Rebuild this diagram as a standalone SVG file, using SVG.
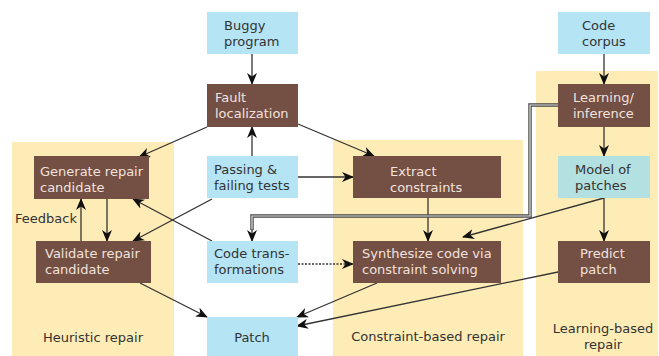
<svg xmlns="http://www.w3.org/2000/svg" width="659" height="356" viewBox="0 0 659 356">
  <defs>
    <marker id="arrow" viewBox="0 0 12 10" refX="11" refY="5" markerWidth="12" markerHeight="10" markerUnits="userSpaceOnUse" orient="auto">
      <path d="M0,0 L12,5 L0,10 L3.5,5 z" fill="#111"/>
    </marker>
  </defs>
  <style>
    text { font-family: "DejaVu Sans", "Liberation Sans", sans-serif; font-size: 13px; }
    .panel { fill: #fdecb6; }
    .input { fill: #b5e4f5; }
    .model { fill: #b3e0e0; }
    .step { fill: #744f44; }
    .dark { fill: #333333; }
    .light { fill: #f2e2dd; }
    .edge { stroke: #333; stroke-width: 1.3; fill: none; marker-end: url(#arrow); }
    .dotted { stroke-dasharray: 2 1.5; }
  </style>
  <rect width="659" height="356" fill="#ffffff"/>

  <!-- approach panels -->
  <g id="panel-heuristic">
    <rect class="panel" x="12" y="142" width="162" height="214"/>
    <text class="dark" x="93" y="342" text-anchor="middle">Heuristic repair</text>
  </g>
  <g id="panel-constraint">
    <rect class="panel" x="333" y="140" width="190" height="216"/>
    <text class="dark" x="428" y="341" text-anchor="middle">Constraint-based repair</text>
  </g>
  <g id="panel-learning">
    <rect class="panel" x="536" y="71" width="122" height="285"/>
    <text class="dark" x="603" y="333" text-anchor="middle">Learning-based</text>
    <text class="dark" x="603" y="349" text-anchor="middle">repair</text>
  </g>

  <!-- connectors -->
  <g id="connectors">
    <line class="edge" x1="252" y1="54" x2="252" y2="84"/>
    <line class="edge" x1="252" y1="156" x2="252" y2="127"/>
    <line class="edge" x1="207" y1="127" x2="139" y2="157"/>
    <line class="edge" x1="298" y1="124" x2="374" y2="156"/>
    <line class="edge" x1="298" y1="177" x2="353" y2="177"/>
    <line class="edge" x1="212" y1="199" x2="133" y2="241"/>
    <line class="edge" x1="212" y1="241" x2="133" y2="199"/>
    <line class="edge" x1="107" y1="199" x2="107" y2="241"/>
    <line class="edge" x1="81" y1="241" x2="81" y2="199"/>
    <line class="edge" x1="140" y1="283" x2="207" y2="317"/>
    <line class="edge dotted" x1="298" y1="264" x2="353" y2="264"/>
    <line class="edge" x1="428" y1="198" x2="428" y2="241"/>
    <path d="M558,105 H530 V216 H252 V230" stroke="#444" stroke-width="3.4" fill="none"/>
    <path d="M558,105 H530 V216 H252 V231" stroke="#e6e6e6" stroke-width="1.2" fill="none"/>
    <path class="edge" d="M252,229 V241"/>
    <line class="edge" x1="604" y1="54" x2="604" y2="84"/>
    <line class="edge" x1="604" y1="127" x2="604" y2="156"/>
    <line class="edge" x1="604" y1="198" x2="604" y2="241"/>
    <line class="edge" x1="604" y1="198" x2="463" y2="237"/>
    <line class="edge" x1="377" y1="283" x2="297" y2="317"/>
    <line class="edge" x1="558" y1="272" x2="297" y2="326"/>
  </g>

  <!-- nodes -->
  <g id="buggy-program">
    <rect class="input" x="207" y="12" width="91" height="42"/>
    <text class="dark" x="224" y="30">Buggy</text>
    <text class="dark" x="224" y="46">program</text>
  </g>
  <g id="fault-localization">
    <rect class="step" x="207" y="84" width="91" height="43"/>
    <text class="light" x="215" y="102">Fault</text>
    <text class="light" x="215" y="118">localization</text>
  </g>
  <g id="passing-failing-tests">
    <rect class="input" x="207" y="156" width="91" height="42"/>
    <text class="dark" x="214" y="174">Passing &amp;</text>
    <text class="dark" x="214" y="190">failing tests</text>
  </g>
  <g id="code-transformations">
    <rect class="input" x="207" y="241" width="91" height="42"/>
    <text class="dark" x="214" y="258">Code trans-</text>
    <text class="dark" x="214" y="274">formations</text>
  </g>
  <g id="patch">
    <rect class="input" x="207" y="317" width="91" height="39"/>
    <text class="dark" x="252" y="342" text-anchor="middle">Patch</text>
  </g>
  <g id="generate-repair-candidate">
    <rect class="step" x="34" y="156" width="115" height="43"/>
    <text class="light" x="40" y="176">Generate repair</text>
    <text class="light" x="40" y="192">candidate</text>
  </g>
  <g id="validate-repair-candidate">
    <rect class="step" x="36" y="241" width="115" height="42"/>
    <text class="light" x="45" y="258">Validate repair</text>
    <text class="light" x="45" y="274">candidate</text>
  </g>
  <g id="feedback-label">
    <text class="dark" x="15" y="223">Feedback</text>
  </g>
  <g id="extract-constraints">
    <rect class="step" x="353" y="156" width="148" height="42"/>
    <text class="light" x="390" y="176">Extract</text>
    <text class="light" x="390" y="192">constraints</text>
  </g>
  <g id="synthesize-code">
    <rect class="step" x="353" y="241" width="148" height="42"/>
    <text class="light" x="362" y="258">Synthesize code via</text>
    <text class="light" x="362" y="274">constraint solving</text>
  </g>
  <g id="code-corpus">
    <rect class="input" x="558" y="12" width="92" height="42"/>
    <text class="dark" x="582" y="30">Code</text>
    <text class="dark" x="582" y="46">corpus</text>
  </g>
  <g id="learning-inference">
    <rect class="step" x="558" y="84" width="92" height="43"/>
    <text class="light" x="573" y="102">Learning/</text>
    <text class="light" x="573" y="118">inference</text>
  </g>
  <g id="model-of-patches">
    <rect class="model" x="558" y="156" width="92" height="42"/>
    <text class="dark" x="575" y="174">Model of</text>
    <text class="dark" x="575" y="190">patches</text>
  </g>
  <g id="predict-patch">
    <rect class="step" x="558" y="241" width="92" height="42"/>
    <text class="light" x="580" y="258">Predict</text>
    <text class="light" x="580" y="274">patch</text>
  </g>
</svg>
